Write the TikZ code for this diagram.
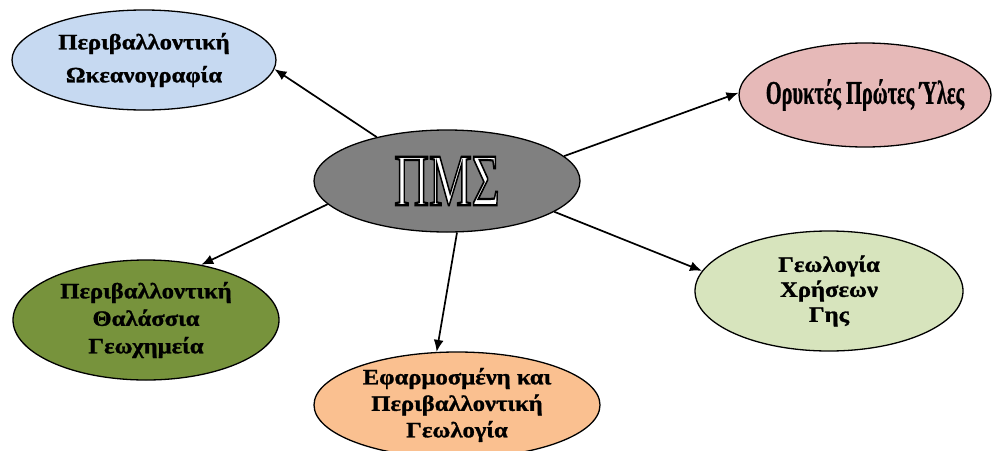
\documentclass[tikz,border=0pt]{standalone}
\usepackage{fontspec}
\setmainfont{Liberation Serif}
\newfontfamily\topicfont{Liberation Serif}[UprightFont=* Bold, FakeStretch=1.12, FakeBold=1.2]
\usetikzlibrary{arrows.meta, shapes.geometric}

\definecolor{oceablue}{HTML}{C6D9F1}
\definecolor{minspink}{HTML}{E6B9B8}
\definecolor{pmsgray}{HTML}{808080}
\definecolor{chemolive}{HTML}{77933C}
\definecolor{applpeach}{HTML}{FAC090}
\definecolor{landgreen}{HTML}{D7E4BD}

% white letters with a black rim (fill + stroke text mode)
\newcommand{\rimtext}[1]{\special{pdf:literal 2 Tr 2.2 w 0 G}#1\special{pdf:literal 0 Tr 1 w}}

\begin{document}
\begin{tikzpicture}[
		x=1pt, y=-1pt, % pixel-like grid, y pointing down
		>={Latex[length=12pt,width=10pt]},
		topic/.style={ellipse, draw=black, line width=1.3pt, inner sep=0pt},
		lbl/.style={align=center, text=black, font=\topicfont\fontsize{22}{#1}\selectfont},
		lbl/.default=28,
		pmstext/.style={inner sep=0pt, text=white, font=\fontsize{74}{74}\selectfont},
		link/.style={->, line width=1.7pt}
		]
		\useasboundingbox (0,0) rectangle (992,450);
		
		% --- 1. Central topic ---
		\node[topic, fill=pmsgray, minimum width=266pt, minimum height=102pt] (pms) at (447,181) {};
		\node[pmstext] (pmsname) at (pms.center) {\scalebox{0.65}[1]{\rimtext{ΠΜΣ}}};
		
		% --- 2. Surrounding topics ---
		\node[topic, fill=oceablue, minimum width=264pt, minimum height=100pt,
		label={[lbl=33, name=ocealbl]center:Περιβαλλοντική\\Ωκεανογραφία}] (ocea) at (144,60) {};
		
		\node[topic, fill=minspink, minimum width=252pt, minimum height=104pt,
		label={[name=minslbl, text=black, font=\topicfont\fontsize{33}{36}\selectfont]center:\scalebox{0.55}[1]{Ορυκτές Πρώτες Ύλες}}] (mins) at (865,95) {};
		
		\node[topic, fill=chemolive, minimum width=266pt, minimum height=120pt,
		label={[lbl=27.5, name=chemlbl]center:Περιβαλλοντική\\Θαλάσσια\\Γεωχημεία}] (chem) at (146,320) {};
		
		\node[topic, fill=applpeach, minimum width=286pt, minimum height=106pt,
		label={[lbl=26.5, name=appllbl]center:Εφαρμοσμένη και\\Περιβαλλοντική\\Γεωλογία}] (appl) at (457,405) {};
		
		\node[topic, fill=landgreen, minimum width=268pt, minimum height=120pt,
		label={[lbl=25, name=landlbl]center:Γεωλογία\\Χρήσεων\\Γης}] (land) at (829,291) {};
		
		% --- 3. Links ---
		\draw[link] (pms.148) -- (ocea.356);
		\draw[link] (pms.12) -- (mins.179);
		\draw[link] (pms.191) -- (chem.45);
		\draw[link] (pms.281) -- (appl.111);
		\draw[link] (pms.344) -- (land.171);
		
	\end{tikzpicture}
\end{document}
